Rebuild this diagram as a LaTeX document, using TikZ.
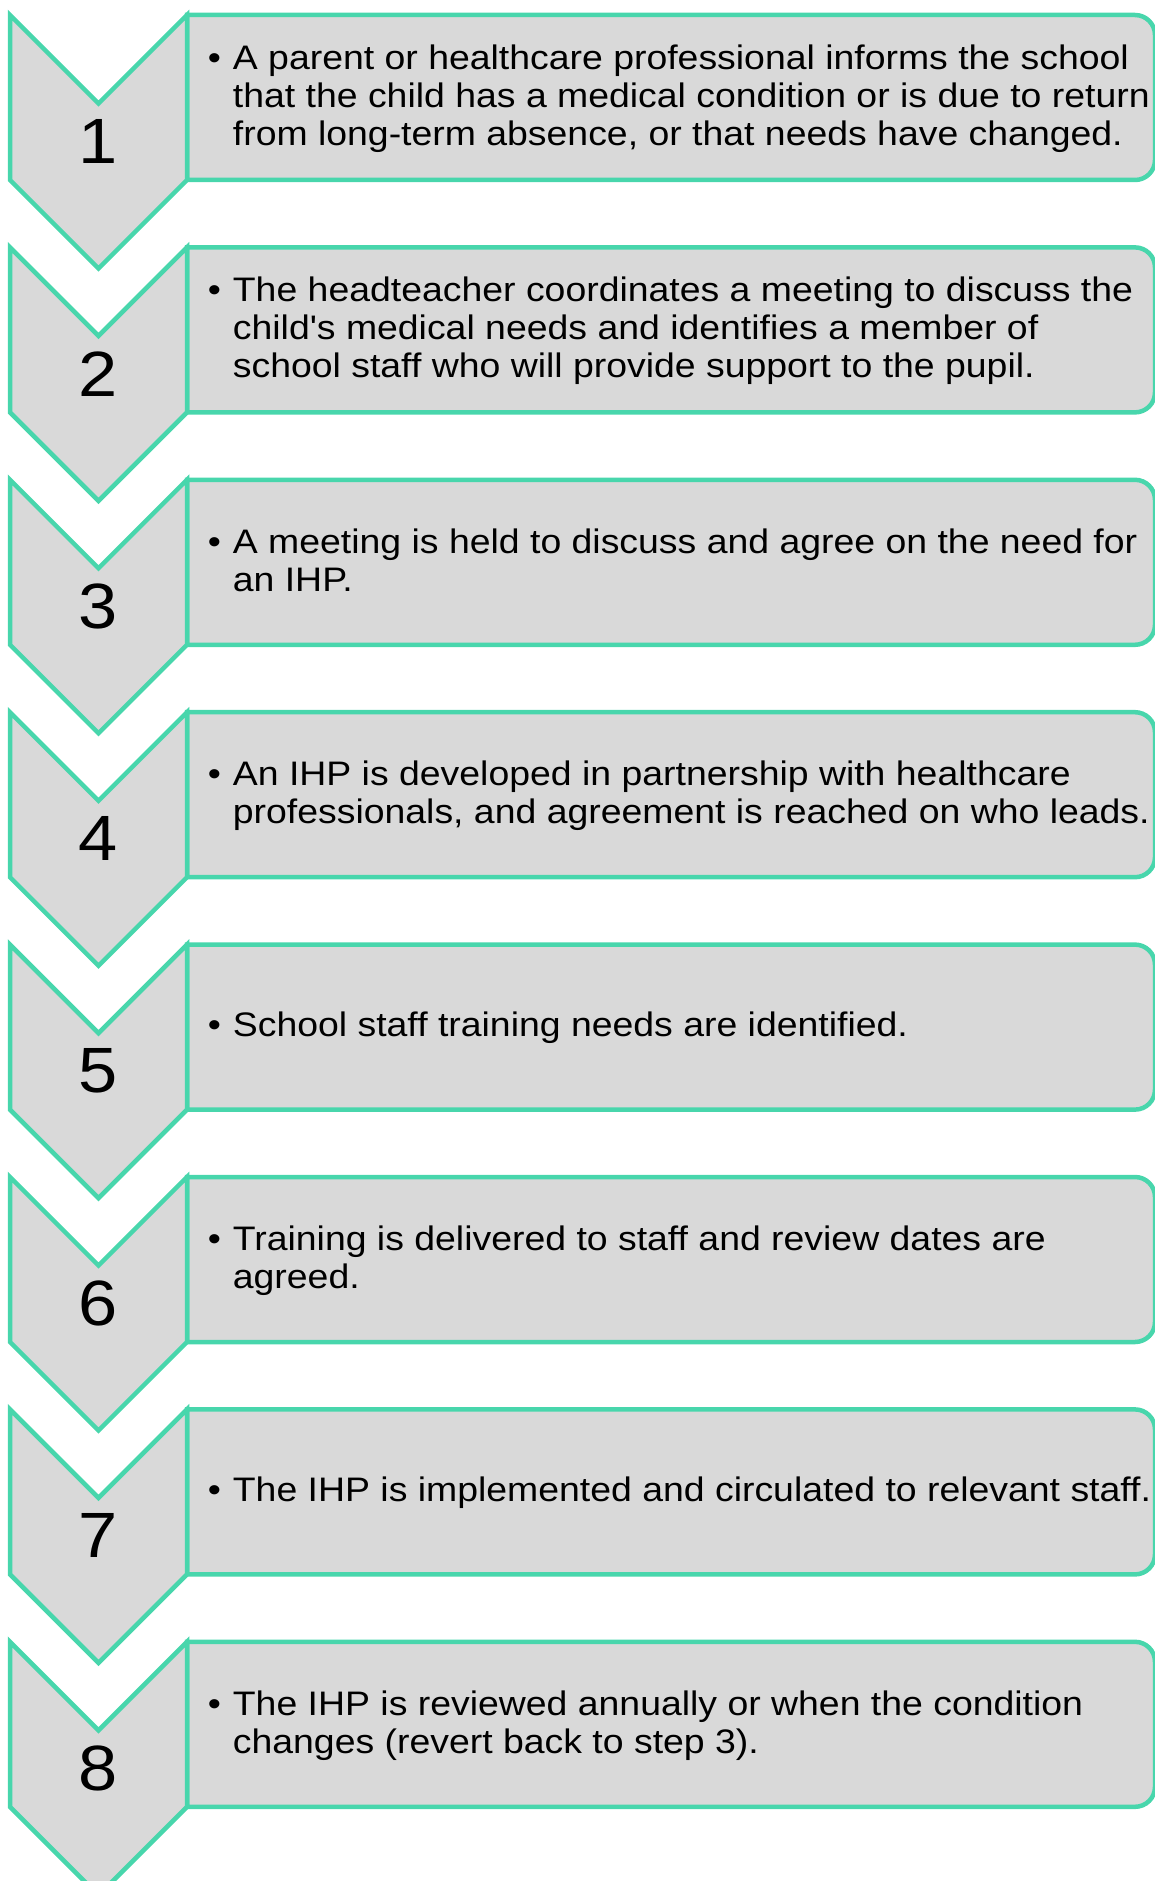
\documentclass[tikz,border=0pt]{standalone}
\usepackage{fontspec}
\setmainfont{Liberation Sans}
\newfontfamily\bodyfont[FakeStretch=1.1]{Liberation Sans}
\definecolor{stepgreen}{RGB}{72,214,172}
\definecolor{stepgray}{RGB}{217,217,217}
\tikzset{
  shapeline/.style={draw=stepgreen, fill=stepgray, line width=4.5pt, line join=miter},
  numtext/.style={inner sep=0pt, font=\bodyfont\fontsize{64}{64}\selectfont, text=black},
  steptext/.style={inner sep=0pt, anchor=base west, font=\bodyfont\fontsize{34}{38}\selectfont, text=black},
}
\newcommand{\firstln}[1]{\hbox{\llap{\textbullet\hspace{12pt}}#1}}
\newcommand{\nextln}[1]{\hbox{#1}}
\newcommand{\drawstep}[3]{%
  \pgfmathsetmacro\stT{15+232.4*#1}%
  \pgfmathsetmacro\stB{\stT+82.5+9.8-(#2-1)*19}%
  \draw[shapeline] (187,-\stT) -- (1135,-\stT)
     arc[start angle=90, end angle=0, radius=20pt] -- (1155,-\stT-145)
     arc[start angle=0, end angle=-90, radius=20pt] -- (187,-\stT-165) -- cycle;
  \draw[shapeline] (10,-\stT) -- (98.5,-\stT-88.5) -- (187,-\stT) -- (187,-\stT-165)
     -- (98.5,-\stT-253.5) -- (10,-\stT-165) -- cycle;
  \node[steptext] (text#1) at (232.7,-\stB) {\vtop{\baselineskip=38pt #3}};
  \node[numtext] (num#1) at (98.5,-\stT-126.5) {\the\numexpr#1+1\relax};
}
\begin{document}
\begin{tikzpicture}[x=1pt,y=1pt]
\useasboundingbox (0,0) rectangle (1155,-1881);
\clip (0,0) rectangle (1155,-1881);
\drawstep{0}{3}{\firstln{A parent or healthcare professional informs the school}\nextln{that the child has a medical condition or is due to return}\nextln{from long-term absence, or that needs have changed.}}
\drawstep{1}{3}{\firstln{The headteacher coordinates a meeting to discuss the}\nextln{child's medical needs and identifies a member of}\nextln{school staff who will provide support to the pupil.}}
\drawstep{2}{2}{\firstln{A meeting is held to discuss and agree on the need for}\nextln{an IHP.}}
\drawstep{3}{2}{\firstln{An IHP is developed in partnership with healthcare}\nextln{professionals, and agreement is reached on who leads.}}
\drawstep{4}{1}{\firstln{School staff training needs are identified.}}
\drawstep{5}{2}{\firstln{Training is delivered to staff and review dates are}\nextln{agreed.}}
\drawstep{6}{1}{\firstln{The IHP is implemented and circulated to relevant staff.}}
\drawstep{7}{2}{\firstln{The IHP is reviewed annually or when the condition}\nextln{changes (revert back to step 3).}}
\end{tikzpicture}
\end{document}
